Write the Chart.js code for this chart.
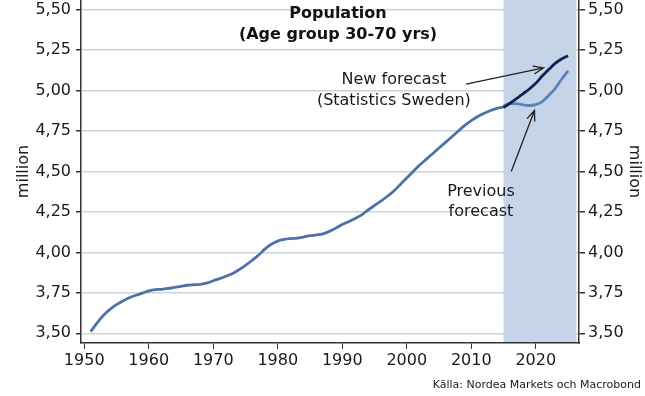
<!DOCTYPE html>
<html lang="sv">
<head>
<meta charset="utf-8">
<title>Population 30-70</title>
<script src="https://cdn.jsdelivr.net/npm/chart.js"></script>
<style>
  html, body { margin: 0; padding: 0; background: #fff; }
  #wrap { width: 645px; height: 396px; }
</style>
</head>
<body>
<div id="wrap"><canvas id="popChart" width="645" height="396"></canvas></div>
<script>
// historical population, age 30-70, million
const histYears = [
  1951, 1952, 1953, 1954, 1955, 1956, 1957, 1958, 1959, 1960,
  1961, 1962, 1963, 1964, 1965, 1966, 1967, 1968, 1969, 1970,
  1971, 1972, 1973, 1974, 1975, 1976, 1977, 1978, 1979, 1980,
  1981, 1982, 1983, 1984, 1985, 1986, 1987, 1988, 1989, 1990,
  1991, 1992, 1993, 1994, 1995, 1996, 1997, 1998, 1999, 2000,
  2001, 2002, 2003, 2004, 2005, 2006, 2007, 2008, 2009, 2010,
  2011, 2012, 2013, 2014, 2015,
];
const histValues = [
  3.51, 3.565, 3.612, 3.648, 3.677, 3.70, 3.72, 3.735, 3.748, 3.762,
  3.77, 3.772, 3.777, 3.784, 3.79, 3.797, 3.80, 3.803, 3.81, 3.825,
  3.838, 3.853, 3.87, 3.893, 3.92, 3.95, 3.982, 4.02, 4.05, 4.07,
  4.08, 4.085, 4.088, 4.095, 4.103, 4.108, 4.115, 4.13, 4.15, 4.173,
  4.19, 4.21, 4.232, 4.262, 4.29, 4.317, 4.347, 4.38, 4.42, 4.46,
  4.50, 4.54, 4.575, 4.61, 4.645, 4.68, 4.715, 4.75, 4.785, 4.815,
  4.84, 4.86, 4.877, 4.89, 4.90,
];

const forecastYears = [2015, 2016, 2017, 2018, 2019, 2020, 2021, 2022, 2023, 2024, 2025];
const newForecast = [4.895, 4.922, 4.95, 4.98, 5.01, 5.045, 5.09, 5.13, 5.168, 5.195, 5.215];
const prevForecast = [4.905, 4.92, 4.92, 4.912, 4.908, 4.913, 4.932, 4.97, 5.012, 5.07, 5.122];

const xTicks = [1950, 1960, 1970, 1980, 1990, 2000, 2010, 2020];
const yTicks = [3.5, 3.75, 4.0, 4.25, 4.5, 4.75, 5.0, 5.25, 5.5];
const forecastBand = [2015, 2026.3];

const FONT = "'DejaVu Sans', Verdana, sans-serif";
const INK = "#1a1a1a";

// text notes placed in data units (year, million)
const notes = [
  { text: "New forecast", x: 1998, y: 5.067 },
  { text: "(Statistics Sweden)", x: 1998, y: 4.937 },
  { text: "Previous", x: 2011.5, y: 4.376 },
  { text: "forecast", x: 2011.5, y: 4.252 },
];
const arrows = [
  { from: [2009.2, 5.04], to: [2021.2, 5.14] },
  { from: [2016.2, 4.5], to: [2019.8, 4.877] },
];

function pairs(xs, ys) {
  return xs.map((x, i) => ({ x: x, y: ys[i] }));
}

function fmtMillion(v) {
  return v.toFixed(2).replace(".", ",");
}

function drawArrow(ctx, x1, y1, x2, y2) {
  const ang = Math.atan2(y2 - y1, x2 - x1);
  const head = 11;
  ctx.beginPath();
  ctx.moveTo(x1, y1);
  ctx.lineTo(x2, y2);
  ctx.moveTo(x2 - head * Math.cos(ang - 0.38), y2 - head * Math.sin(ang - 0.38));
  ctx.lineTo(x2, y2);
  ctx.lineTo(x2 - head * Math.cos(ang + 0.38), y2 - head * Math.sin(ang + 0.38));
  ctx.stroke();
}

const overlayPlugin = {
  id: "overlay",
  beforeDraw(chart) {
    const { ctx, chartArea, scales } = chart;
    const x0 = scales.x.getPixelForValue(forecastBand[0]);
    const x1 = scales.x.getPixelForValue(forecastBand[1]);
    ctx.save();
    ctx.fillStyle = "#c5d4e8";
    ctx.fillRect(x0, chartArea.top, x1 - x0, chartArea.bottom - chartArea.top);
    ctx.restore();
  },
  afterDraw(chart) {
    const { ctx, chartArea, scales } = chart;
    const sx = scales.x, sy = scales.y;
    ctx.save();

    // title inside the plot
    ctx.fillStyle = "#111";
    ctx.textAlign = "center";
    ctx.textBaseline = "middle";
    ctx.font = "bold 16px " + FONT;
    const cx = (chartArea.left + chartArea.right) / 2 + 8;
    ctx.fillText("Population", cx, chartArea.top + 14);
    ctx.fillText("(Age group 30-70 yrs)", cx, chartArea.top + 35);

    ctx.font = "16px " + FONT;
    ctx.fillStyle = INK;
    notes.forEach((n) => {
      ctx.fillText(n.text, sx.getPixelForValue(n.x), sy.getPixelForValue(n.y));
    });

    ctx.strokeStyle = "#222";
    ctx.lineWidth = 1.3;
    arrows.forEach((a) => {
      drawArrow(
        ctx,
        sx.getPixelForValue(a.from[0]), sy.getPixelForValue(a.from[1]),
        sx.getPixelForValue(a.to[0]), sy.getPixelForValue(a.to[1])
      );
    });

    ctx.font = "11px " + FONT;
    ctx.textAlign = "right";
    ctx.fillStyle = INK;
    ctx.fillText("Källa: Nordea Markets och Macrobond", chart.width - 4, 385);
    ctx.restore();
  },
};

function yAxis(position, width, tickPad, titlePad) {
  return {
    type: "linear",
    position: position,
    min: 3.44,
    max: 5.56,
    afterBuildTicks: (scale) => {
      scale.ticks = yTicks.map((v) => ({ value: v }));
    },
    afterFit: (scale) => {
      scale.width = width;
      scale.paddingTop = 0;
      scale.paddingBottom = 0;
    },
    ticks: {
      color: INK,
      font: { size: 16, family: FONT },
      padding: tickPad,
      callback: (v) => fmtMillion(v),
    },
    grid: {
      display: true,
      drawOnChartArea: position === "left",
      color: "#c9d3dd",
      lineWidth: 1.5,
      tickColor: "#333",
      tickLength: position === "left" ? 5 : 6,
    },
    border: { display: true, color: "#333", width: 1.5 },
    title: {
      display: true,
      text: "million",
      color: INK,
      font: { size: 16, family: FONT },
      padding: { top: titlePad, bottom: 0 },
    },
  };
}

function renderChart() {
  const ctx = document.getElementById("popChart").getContext("2d");

  const lineStyle = {
    type: "line",
    pointRadius: 0,
    borderWidth: 2.8,
    fill: false,
    cubicInterpolationMode: "monotone",
  };

  new Chart(ctx, {
    data: {
      datasets: [
        { ...lineStyle, label: "New forecast", data: pairs(forecastYears, newForecast), borderColor: "#0c2453" },
        { ...lineStyle, label: "Previous forecast", data: pairs(forecastYears, prevForecast), borderColor: "#5b82b6" },
        { ...lineStyle, label: "Population 30-70", data: pairs(histYears, histValues), borderColor: "#4e72a4" },
      ],
    },
    options: {
      responsive: false,
      animation: false,
      layout: { padding: 0 },
      plugins: {
        legend: { display: false },
        tooltip: { enabled: false },
        title: { display: false },
      },
      scales: {
        x: {
          type: "linear",
          position: "bottom",
          min: 1949.5,
          max: 2026.7,
          afterBuildTicks: (scale) => {
            scale.ticks = xTicks.map((v) => ({ value: v }));
          },
          afterFit: (scale) => {
            scale.height = 53;
            scale.paddingLeft = 0;
            scale.paddingRight = 0;
          },
          ticks: {
            color: INK,
            font: { size: 16, family: FONT },
            padding: 2,
            maxRotation: 0,
            callback: (v) => String(v),
          },
          grid: {
            drawOnChartArea: false,
            tickColor: "#333",
            tickLength: 6,
          },
          border: { display: true, color: "#333", width: 1.5 },
        },
        y: yAxis("left", 81, 5, 14),
        y2: yAxis("right", 66, 3, 1.5),
      },
    },
    plugins: [overlayPlugin],
  });
}

renderChart();
</script>
</body>
</html>
